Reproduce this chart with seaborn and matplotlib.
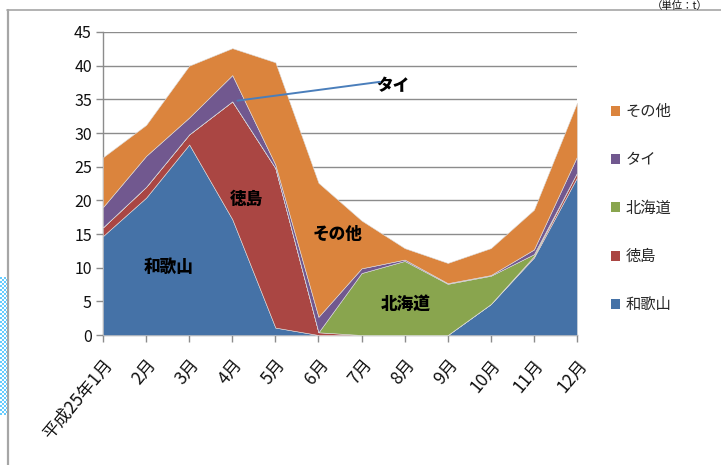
import numpy as np
import pandas as pd
import matplotlib
matplotlib.use("Agg")
import matplotlib.pyplot as plt
import seaborn as sns
from matplotlib.lines import Line2D
from matplotlib.patches import Patch

# monthly volumes (t)
months = ["平成25年1月", "2月", "3月", "4月", "5月", "6月",
          "7月", "8月", "9月", "10月", "11月", "12月"]
wakayama = [14.7, 20.4, 28.3, 17.2, 1.1, 0.0, 0.0, 0.0, 0.0, 4.6, 11.5, 23.4]
tokushima = [1.3, 1.6, 1.5, 17.5, 23.7, 0.4, 0.0, 0.0, 0.0, 0.0, 0.2, 0.7]
hokkaido = [0.0, 0.0, 0.0, 0.0, 0.0, 0.0, 9.2, 11.0, 7.6, 4.2, 0.3, 0.0]
thai = [3.0, 4.6, 2.5, 3.9, 0.5, 2.3, 0.7, 0.2, 0.1, 0.1, 0.7, 2.4]
other = [7.4, 4.6, 7.7, 4.0, 15.2, 19.9, 7.1, 1.7, 3.0, 4.0, 5.9, 8.0]

series_names = ["和歌山", "徳島", "北海道", "タイ", "その他"]
colors = ["#4572A7", "#AA4643", "#89A54E", "#71588F", "#DB843D"]

df = pd.DataFrame({"month": months, "和歌山": wakayama, "徳島": tokushima,
                   "北海道": hokkaido, "タイ": thai, "その他": other})

sns.set_theme(style="white")
plt.rcParams["font.family"] = ["Noto Sans CJK JP", "DejaVu Sans"]

fig = plt.figure(figsize=(7.21, 4.65), dpi=100)
ax = fig.add_axes([103 / 721, 1 - 335 / 465, (577 - 103) / 721, (335 - 32) / 465])

x = np.arange(len(months))
ax.stackplot(x, [df[n] for n in series_names], colors=colors,
             edgecolor="#dddddd", linewidth=0.4, zorder=3)

ax.set_xlim(0, len(months) - 1)
ax.set_ylim(0, 45)
ax.set_yticks(range(0, 50, 5))
ax.set_xticks(x)
ax.set_xticklabels(months, rotation=50, ha="right", va="top",
                   rotation_mode="anchor", fontsize=12.5, color="#111111")
ax.tick_params(axis="x", pad=10)
ax.tick_params(axis="y", labelsize=11.5, colors="#111111", pad=3)
ax.tick_params(axis="both", which="major", direction="out", length=5,
               color="#8c8c8c", width=1, left=True, bottom=True)
ax.yaxis.grid(True, color="#8c8c8c", linewidth=1, zorder=0)
ax.set_axisbelow(True)
for side in ["top", "right"]:
    ax.spines[side].set_visible(False)
for side in ["left", "bottom"]:
    ax.spines[side].set_color("#8c8c8c")
    ax.spines[side].set_linewidth(1)
ax.set_xlabel("")
ax.set_ylabel("")

# in-chart labels
label_kw = dict(fontsize=12, fontweight="heavy", color="black",
                ha="center", va="center", zorder=5)
ax.text(1.52, 10.1, "和歌山", **label_kw)
ax.text(3.32, 20.2, "徳島", **label_kw)
ax.text(5.45, 15.0, "その他", **label_kw)
ax.text(7.02, 4.6, "北海道", **label_kw)
ax.text(6.72, 36.9, "タイ", **label_kw)
ax.plot([3.12, 6.43], [34.8, 37.6], color="#4A7EBB", linewidth=1.4, zorder=5)

# legend (reverse order like the stacked chart)
handles = [Patch(facecolor=c, edgecolor="none") for c in colors][::-1]
fig.legend(handles, series_names[::-1], loc="upper left",
           bbox_to_anchor=(611 / 721, 1 - 103 / 465), frameon=False,
           fontsize=11, labelspacing=2.05, handlelength=0.62,
           handleheight=0.62, handletextpad=0.35, borderpad=0,
           borderaxespad=0)

# outer frame of the sheet
fig.add_artist(Line2D([7 / 721, 1], [1 - 10 / 465, 1 - 10 / 465],
                      transform=fig.transFigure, color="#a6a6a6", linewidth=1.2))
fig.add_artist(Line2D([7.5 / 721, 7.5 / 721], [0, 1 - 10 / 465],
                      transform=fig.transFigure, color="#a6a6a6", linewidth=1.6))
fig.text(680 / 721, 1 - 0.5 / 465, "（単位：t）", ha="center", va="top",
         fontsize=7.5, color="#111111")

# checkered selection strip at the left edge
chk = np.ones((138, 7, 3))
yy, xx = np.mgrid[0:138, 0:7]
mask = ((yy // 2) + (xx // 2)) % 2 == 0
chk[mask] = np.array([0x66, 0xCC, 0xFF]) / 255
fig.figimage(chk, xo=0, yo=465 - 415, zorder=10)

fig.savefig("out.png", dpi=100)
